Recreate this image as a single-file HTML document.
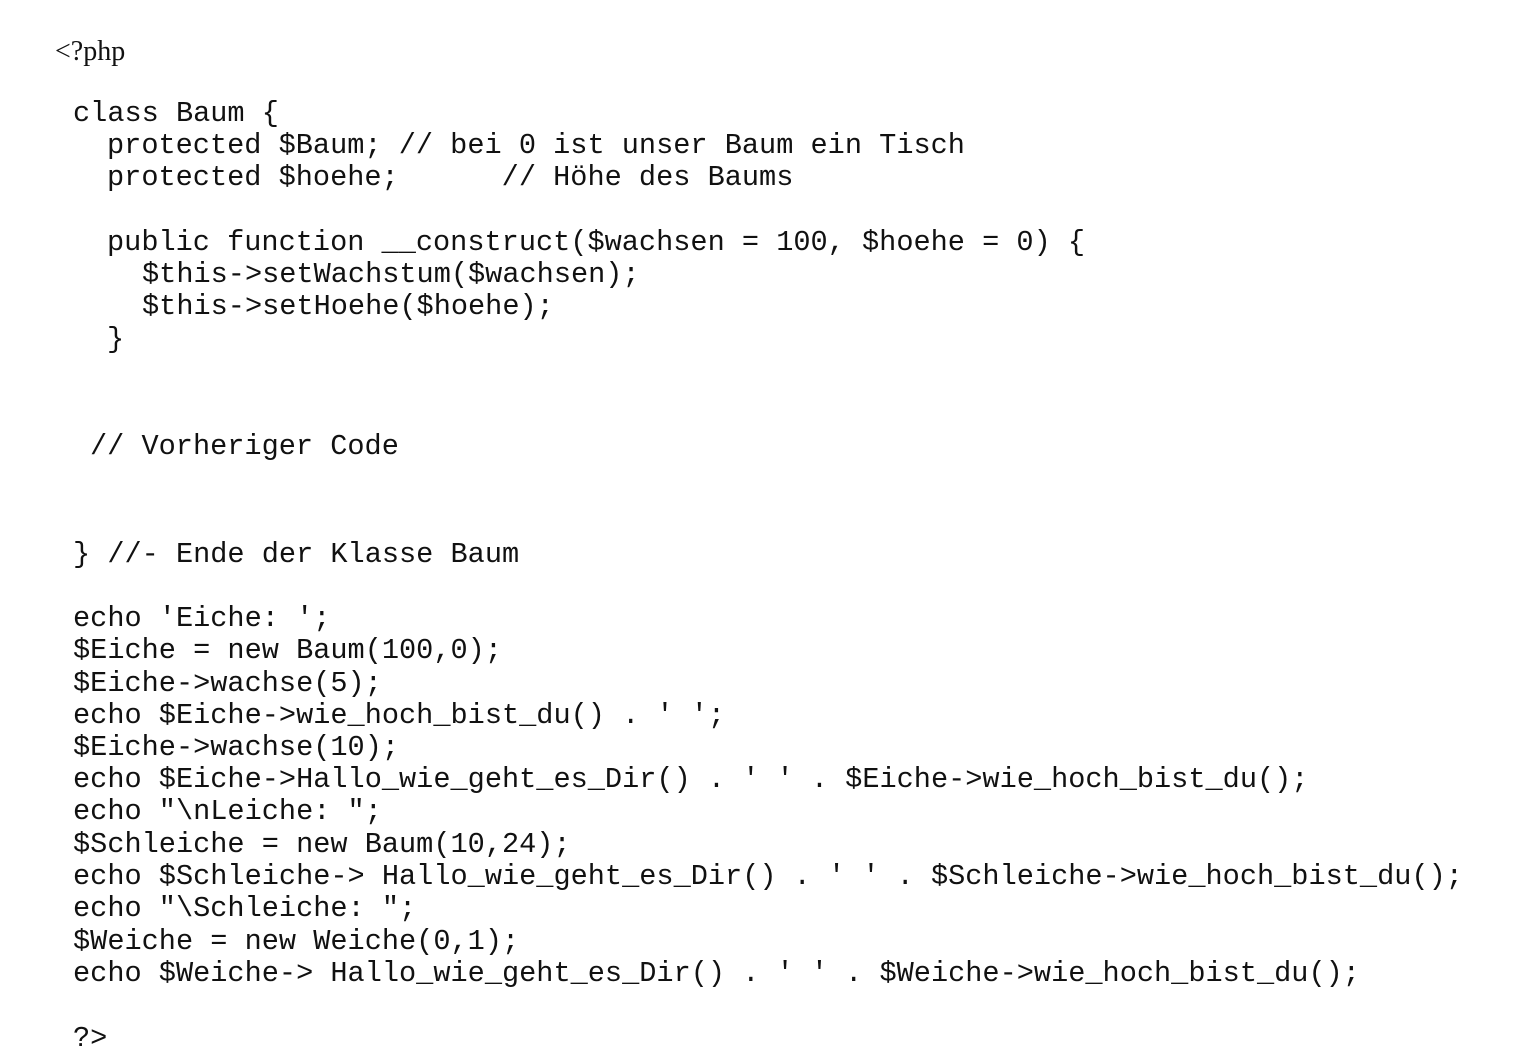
<!DOCTYPE html>
<html><head><meta charset="utf-8"><style>
html,body{margin:0;padding:0;background:#fff;width:1526px;height:1062px;overflow:hidden}
.l{position:absolute;font-family:"Liberation Mono",monospace;font-size:28.6px;line-height:32px;white-space:pre;color:#111}
.s{position:absolute;font-family:"Liberation Serif",serif;font-size:28px;line-height:32px;white-space:pre;color:#111}
</style></head><body>
<div class="s" style="left:55px;top:36px">&lt;?php</div>
<div class="l" style="left:73px;top:98px">class Baum {</div>
<div class="l" style="left:107px;top:130px">protected $Baum; // bei 0 ist unser Baum ein Tisch</div>
<div class="l" style="left:107px;top:162px">protected $hoehe;      // Höhe des Baums</div>
<div class="l" style="left:107px;top:227px">public function __construct($wachsen = 100, $hoehe = 0) {</div>
<div class="l" style="left:142px;top:259px">$this-&gt;setWachstum($wachsen);</div>
<div class="l" style="left:142px;top:291px">$this-&gt;setHoehe($hoehe);</div>
<div class="l" style="left:107px;top:324px">}</div>
<div class="l" style="left:90px;top:431px">// Vorheriger Code</div>
<div class="l" style="left:73px;top:539px">} //- Ende der Klasse Baum</div>
<div class="l" style="left:73px;top:603px">echo 'Eiche: ';</div>
<div class="l" style="left:73px;top:635px">$Eiche = new Baum(100,0);</div>
<div class="l" style="left:73px;top:668px">$Eiche-&gt;wachse(5);</div>
<div class="l" style="left:73px;top:700px">echo $Eiche-&gt;wie_hoch_bist_du() . ' ';</div>
<div class="l" style="left:73px;top:732px">$Eiche-&gt;wachse(10);</div>
<div class="l" style="left:73px;top:764px">echo $Eiche-&gt;Hallo_wie_geht_es_Dir() . ' ' . $Eiche-&gt;wie_hoch_bist_du();</div>
<div class="l" style="left:73px;top:796px">echo "\nLeiche: ";</div>
<div class="l" style="left:73px;top:829px">$Schleiche = new Baum(10,24);</div>
<div class="l" style="left:73px;top:861px">echo $Schleiche-&gt; Hallo_wie_geht_es_Dir() . ' ' . $Schleiche-&gt;wie_hoch_bist_du();</div>
<div class="l" style="left:73px;top:893px">echo "\Schleiche: ";</div>
<div class="l" style="left:73px;top:926px">$Weiche = new Weiche(0,1);</div>
<div class="l" style="left:73px;top:958px">echo $Weiche-&gt; Hallo_wie_geht_es_Dir() . ' ' . $Weiche-&gt;wie_hoch_bist_du();</div>
<div class="l" style="left:73px;top:1023px">?&gt;</div>
</body></html>
